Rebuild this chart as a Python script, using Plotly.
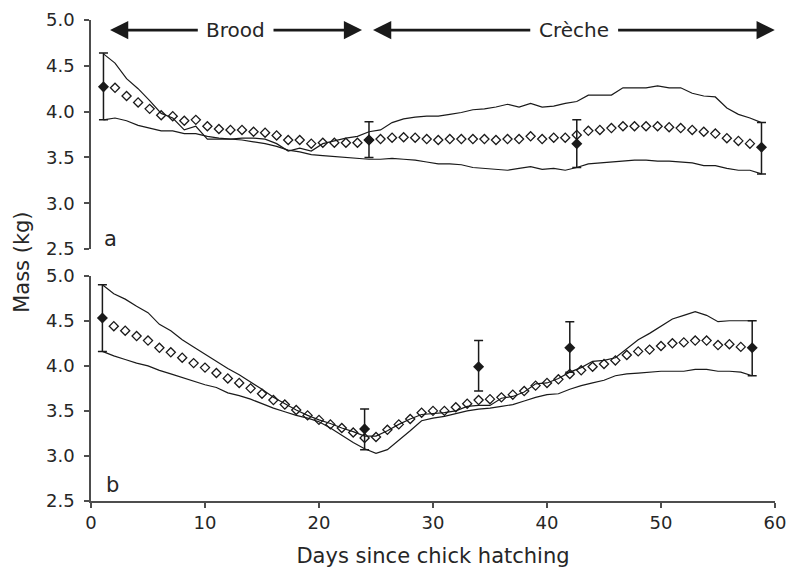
import plotly.graph_objects as go

# ---------------- data ----------------
days_line = list(range(1, 59))
days_open = list(range(2, 58))

# panel a
a_upper = [4.63, 4.53, 4.36, 4.25, 4.12, 3.98, 3.93, 3.80, 3.84, 3.70,
           3.70, 3.70, 3.71, 3.71, 3.70, 3.65, 3.57, 3.60, 3.57, 3.65,
           3.68, 3.71, 3.73, 3.78, 3.80, 3.88, 3.92, 3.94, 3.95, 3.95,
           3.97, 3.99, 4.02, 4.03, 4.05, 4.08, 4.05, 4.09, 4.05, 4.06,
           4.09, 4.11, 4.18, 4.18, 4.18, 4.26, 4.26, 4.26, 4.28, 4.26,
           4.26, 4.20, 4.17, 4.16, 4.04, 3.97, 3.93, 3.88]
a_lower = [3.91, 3.93, 3.90, 3.85, 3.82, 3.79, 3.79, 3.76, 3.76, 3.73,
           3.71, 3.70, 3.69, 3.67, 3.65, 3.62, 3.58, 3.56, 3.53, 3.52,
           3.51, 3.50, 3.49, 3.48, 3.48, 3.49, 3.48, 3.47, 3.45, 3.43,
           3.43, 3.42, 3.39, 3.38, 3.37, 3.36, 3.38, 3.40, 3.37, 3.38,
           3.36, 3.39, 3.43, 3.44, 3.45, 3.46, 3.47, 3.47, 3.46, 3.46,
           3.45, 3.44, 3.41, 3.41, 3.38, 3.36, 3.36, 3.32]
a_open = [4.26, 4.17, 4.10, 4.03, 3.96, 3.95, 3.90, 3.91, 3.84, 3.81,
          3.80, 3.80, 3.78, 3.77, 3.74, 3.69, 3.69, 3.65, 3.66, 3.66,
          3.66, 3.66, 3.69, 3.70, 3.715, 3.72, 3.715, 3.70, 3.69, 3.70,
          3.70, 3.70, 3.70, 3.69, 3.70, 3.70, 3.73, 3.70, 3.715, 3.715,
          3.745, 3.79, 3.80, 3.82, 3.84, 3.84, 3.84, 3.84, 3.83, 3.82,
          3.80, 3.78, 3.76, 3.71, 3.68, 3.65]
a_obs_days = [1, 24, 42, 58]
a_obs_mean = [4.27, 3.69, 3.65, 3.61]
a_obs_hi = [4.64, 3.89, 3.91, 3.88]
a_obs_lo = [3.91, 3.50, 3.39, 3.32]

# panel b
b_upper = [4.90, 4.80, 4.74, 4.66, 4.59, 4.46, 4.39, 4.29, 4.21, 4.13,
           4.05, 3.97, 3.90, 3.82, 3.74, 3.65, 3.58, 3.51, 3.45, 3.40,
           3.36, 3.31, 3.27, 3.22, 3.22, 3.28, 3.35, 3.41, 3.46, 3.47,
           3.48, 3.50, 3.55, 3.56, 3.56, 3.64, 3.66, 3.71, 3.80, 3.81,
           3.86, 3.93, 3.98, 4.05, 4.06, 4.09, 4.19, 4.29, 4.36, 4.44,
           4.52, 4.56, 4.60, 4.56, 4.49, 4.50, 4.50, 4.50]
b_lower = [4.16, 4.11, 4.07, 4.03, 4.00, 3.95, 3.91, 3.87, 3.83, 3.79,
           3.76, 3.70, 3.67, 3.63, 3.58, 3.53, 3.49, 3.45, 3.42, 3.38,
           3.31, 3.23, 3.15, 3.08, 3.03, 3.07, 3.17, 3.28, 3.39, 3.42,
           3.44, 3.47, 3.50, 3.52, 3.53, 3.55, 3.57, 3.61, 3.65, 3.68,
           3.69, 3.74, 3.78, 3.81, 3.84, 3.89, 3.91, 3.92, 3.93, 3.94,
           3.94, 3.94, 3.96, 3.96, 3.94, 3.94, 3.93, 3.89]
b_open = [4.44, 4.39, 4.33, 4.28, 4.20, 4.15, 4.09, 4.03, 3.98, 3.92,
          3.86, 3.81, 3.75, 3.69, 3.62, 3.57, 3.51, 3.45, 3.40, 3.35,
          3.31, 3.26, 3.20, 3.21, 3.29, 3.35, 3.41, 3.48, 3.50, 3.50,
          3.54, 3.58, 3.62, 3.63, 3.65, 3.68, 3.72, 3.78, 3.81, 3.85,
          3.91, 3.95, 3.99, 4.02, 4.06, 4.12, 4.16, 4.18, 4.22, 4.25,
          4.26, 4.28, 4.28, 4.23, 4.24, 4.21]
b_obs_days = [1, 24, 34, 42, 58]
b_obs_mean = [4.53, 3.30, 3.99, 4.20, 4.20]
b_obs_hi = [4.90, 3.52, 4.28, 4.49, 4.50]
b_obs_lo = [4.16, 3.07, 3.72, 3.93, 3.89]

y_ticks = [2.5, 3.0, 3.5, 4.0, 4.5, 5.0]
x_ticks = [0, 10, 20, 30, 40, 50, 60]

# ---------------- figure ----------------
INK = "#1a1a1a"
TXT = "#262626"
AX = "#4d4d4d"
FONT = "DejaVu Sans"

fig = go.Figure()


def add_panel(xa, ya, upper, lower, opn, od, om, ohi, olo):
    for series in (upper, lower):
        fig.add_trace(go.Scatter(x=days_line, y=series, mode="lines",
                                 line=dict(color=INK, width=1.2),
                                 xaxis=xa, yaxis=ya, showlegend=False,
                                 hoverinfo="skip"))
    fig.add_trace(go.Scatter(x=days_open, y=opn, mode="markers",
                             marker=dict(symbol="diamond-open", size=7,
                                         color=INK, line=dict(width=1.3, color=INK)),
                             xaxis=xa, yaxis=ya, showlegend=False))
    fig.add_trace(go.Scatter(
        x=od, y=om, mode="markers",
        marker=dict(symbol="diamond", size=8.5, color=INK),
        error_y=dict(type="data", symmetric=False,
                     array=[h - m for h, m in zip(ohi, om)],
                     arrayminus=[m - l for m, l in zip(om, olo)],
                     color=INK, thickness=1.5, width=4.5),
        xaxis=xa, yaxis=ya, showlegend=False))


add_panel("x2", "y2", a_upper, a_lower, a_open, a_obs_days, a_obs_mean, a_obs_hi, a_obs_lo)
add_panel("x", "y", b_upper, b_lower, b_open, b_obs_days, b_obs_mean, b_obs_hi, b_obs_lo)

yax = dict(range=[2.5, 5.0], tickvals=y_ticks, ticktext=[f"{v:.1f}" for v in y_ticks],
           showline=True, linecolor=AX, linewidth=1.5, ticks="outside",
           ticklen=5, tickwidth=1.5, tickcolor=AX, showgrid=False, zeroline=False,
           automargin=False, ticklabelstandoff=6,
           tickfont=dict(family=FONT, size=18, color=TXT))

fig.update_layout(
    template="none",
    width=787, height=568,
    margin=dict(l=91, r=12, t=20, b=67, autoexpand=False),
    paper_bgcolor="white", plot_bgcolor="white",
    font=dict(family=FONT, color=TXT),
    xaxis=dict(domain=[0, 1], range=[0, 60], tickvals=x_ticks,
               showline=True, linecolor=AX, linewidth=1.5, ticks="outside",
               ticklen=5, tickwidth=1.5, tickcolor=AX, showgrid=False,
               zeroline=False, anchor="y", automargin=False,
               tickfont=dict(family=FONT, size=18, color=TXT),
               title=dict(text="Days since chick hatching",
                          font=dict(family=FONT, size=21, color=TXT), standoff=18)),
    yaxis=dict(domain=[0, 0.4684], anchor="x", **yax),
    xaxis2=dict(domain=[0, 1], range=[-0.08, 59.17], showline=False,
                showticklabels=False, ticks="", showgrid=False, zeroline=False,
                anchor="y2", automargin=False),
    yaxis2=dict(domain=[0.5239, 1], anchor="x2", **yax),
)

ann = []
# y-axis title
ann.append(dict(text="Mass (kg)", xref="paper", yref="paper", x=-0.101, y=0.497,
                textangle=-90, showarrow=False, xanchor="center", yanchor="middle",
                font=dict(family=FONT, size=21, color=TXT)))
# panel letters
ann.append(dict(text="a", xref="x2", yref="y2", x=1.6, y=2.605, showarrow=False,
                font=dict(family=FONT, size=21, color=TXT)))
ann.append(dict(text="b", xref="x", yref="y", x=1.9, y=2.675, showarrow=False,
                font=dict(family=FONT, size=21, color=TXT)))
# phase arrows
arrow_y = 4.89
for head, tail in [(1.57, 9.3), (23.4, 15.6), (24.35, 38.1), (59.15, 45.45)]:
    ann.append(dict(text="", xref="x2", yref="y2", axref="x2", ayref="y2",
                    x=head, y=arrow_y, ax=tail, ay=arrow_y, showarrow=True,
                    arrowhead=2, arrowsize=1.3, arrowwidth=2.8, arrowcolor=INK))
ann.append(dict(text="Brood", xref="x2", yref="y2", x=12.45, y=arrow_y,
                showarrow=False, font=dict(family=FONT, size=20, color=TXT)))
ann.append(dict(text="Crèche", xref="x2", yref="y2", x=41.8, y=arrow_y,
                showarrow=False, font=dict(family=FONT, size=20, color=TXT)))
fig.update_layout(annotations=ann)

fig.write_html("out.html", config={"displayModeBar": False},
               post_script="document.body.style.margin='0px';")
